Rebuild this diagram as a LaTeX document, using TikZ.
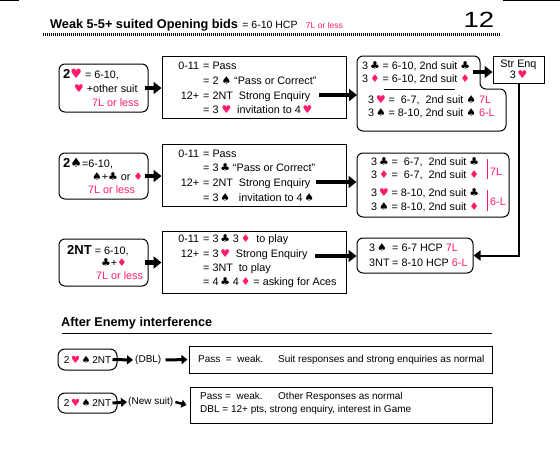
\documentclass[tikz,border=0pt]{standalone}
\usepackage{fontspec}
\usepackage{graphicx}
\setmainfont{Liberation Sans}
\newfontfamily\suitfont{DejaVu Sans}
\usetikzlibrary{arrows.meta, positioning, calc}
\definecolor{bidPink}{HTML}{FF1C6E}
\newcommand{\suitH}{{\suitfont\color{bidPink}♥}}
\newcommand{\suitD}{{\suitfont\color{bidPink}♦}}
\newcommand{\suitS}{{\suitfont ♠}}
\newcommand{\suitC}{{\suitfont ♣}}
\newcommand{\pk}[1]{{\color{bidPink}#1}}
\newcommand{\opn}[1]{{\bfseries\fontsize{13}{14}\selectfont #1}}
\newcommand{\lab}[1]{\makebox[29pt][r]{#1}\hspace{4pt}}
\newcommand{\bsz}[1]{\fontsize{10.8}{#1}\selectfont}
\tikzset{
  bidfont/.style={font=\bsz{14.7}},
  lowfont/.style={font=\fontsize{10}{13}\selectfont},
  hdfont/.style={font=\bfseries\fontsize{12.7}{15}\selectfont},
  sqbox/.style={draw, line width=1pt, inner sep=0pt},
  rdbox/.style={draw, line width=1pt, rounded corners=6pt, inner sep=0pt},
  txt/.style={bidfont, align=left, inner sep=0pt, anchor=west},
  bigarr/.style={-{Triangle[length=8pt,width=12pt]}, line width=4.5pt},
  midarr/.style={-{Triangle[length=6pt,width=9pt]}, line width=3pt},
  smlarr/.style={-{Triangle[length=5pt,width=8pt]}, line width=2.5pt},
  retarr/.style={-{Triangle[length=7pt,width=10pt]}, line width=2pt},
}

\begin{document}
\begin{tikzpicture}[x=1pt, y=-1pt]
  \useasboundingbox (0,0) rectangle (560,450);

  % heading
  \draw[line width=1pt] (0,0.5) -- (19,0.5);
  \draw[line width=1pt] (503,0.5) -- (560,0.5);
  \node[hdfont, anchor=base west, inner sep=0pt] (ttl) at (50,28.5) {Weak 5-5+ suited Opening bids};
  \node[font=\fontsize{10.5}{12}\selectfont, anchor=base west, inner sep=0pt] (hcp)
        at ([xshift=4pt]ttl.base east) {= 6-10 HCP};
  \node[font=\fontsize{8.5}{10}\selectfont, text=bidPink, anchor=base west, inner sep=0pt] (sev)
        at ([xshift=8pt]hcp.base east) {7L or less};
  \node[font=\fontsize{22}{22}\selectfont, inner sep=0pt] (pg) at (479,20) {\scalebox{1.25}[1]{12}};
  \draw[line width=3pt, dash pattern=on 1pt off 1pt] (43,34.5) -- (500,34.5);

  % 2H
  \node[rdbox, minimum width=89pt, minimum height=48pt] (l1) at (103.5,88) {};
  \node[txt, font=\bsz{14}] (l1t) at (63,88)
        {\opn{2\suitH} = 6-10,\\ \hspace*{11pt}\suitH\ +other suit\\ \hspace*{29pt}\pk{7L or less}};
  \node[sqbox, minimum width=184pt, minimum height=62pt] (m1) at (254,87) {};
  \node[txt] (m1t) at (170,88)
        {\lab{0-11}= Pass\\
         \lab{}= 2 \suitS\ “Pass or Correct”\\
         \lab{12+}= 2NT\ \ Strong Enquiry\\
         \lab{}= 3 \suitH\ \ invitation to 4\,\suitH};
  \draw[rounded corners=6pt, line width=1pt] (357,90) -- (357,56) -- (480,56) -- (480,89)
        -- (506,89) -- (506,131) -- (357,131) -- cycle;
  \draw[line width=1pt] (384,89) -- (455,89);
  \node[txt, font=\bsz{13}] (r1a) at (362,72.5)
        {3\,\suitC\ = 6-10, 2nd suit \suitC\\ 3\,\suitD\ = 6-10, 2nd suit \suitD};
  \node[txt, font=\bsz{12.5}] (r1b) at (368,107)
        {3\,\suitH\ =\ \ 6-7,\ \ 2nd suit \suitS\ \pk{7L}\\ 3\,\suitS\ = 8-10, 2nd suit \suitS\ \pk{6-L}};
  \node[sqbox, minimum width=51pt, minimum height=27pt, align=center,
        font=\bsz{10.5}] (se) at (518.5,69.5) {Str Enq\\3\,\suitH};

  \coordinate (m1s) at (319,95);
  \coordinate (r1w) at (357,95);
  \coordinate (r1s) at (473,72);
  \draw[bigarr] ([xshift=-4pt]l1.east) -- (l1.east -| m1.west);
  \draw[bigarr] (m1s) -- (r1w);
  \draw[bigarr] (r1s) -- (r1s -| se.west);

  % 2S
  \node[rdbox, minimum width=89pt, minimum height=46pt] (l2) at (103.5,176) {};
  \node[txt, font=\bsz{13}] (l2t) at (63,176)
        {\opn{2\suitS}=6-10,\\ \hspace*{29pt}\suitS+\suitC\ or \suitD\\ \hspace*{25pt}\pk{7L or less}};
  \node[sqbox, minimum width=184pt, minimum height=62pt] (m2) at (254,175) {};
  \node[txt] (m2t) at (170,175.5)
        {\lab{0-11}= Pass\\
         \lab{}= 3\,\suitC\ “Pass or Correct”\\
         \lab{12+}= 2NT\ \ Strong Enquiry\\
         \lab{}= 3\,\suitS\ \ \ invitation to 4\,\suitS};
  \node[rdbox, minimum width=152pt, minimum height=64pt] (r2) at (433,185) {};
  \node[txt, font=\bsz{13}] (r2a) at (371,168.5)
        {3\,\suitC\ =\ \ 6-7,\ \ 2nd suit \suitC\\ 3\,\suitD\ =\ \ 6-7,\ \ 2nd suit \suitD};
  \node[txt, font=\bsz{14}] (r2b) at (371,200)
        {3\,\suitH\ = 8-10, 2nd suit \suitC\\ 3\,\suitS\ = 8-10, 2nd suit \suitD};
  \draw[bidPink, line width=1pt] (487,159) -- (487,179);
  \draw[bidPink, line width=1pt] (487,190) -- (487,211);
  \node[txt, text=bidPink] (r2s) at (490,172) {7L};
  \node[txt, text=bidPink] (r2l) at (490,202) {6-L};

  \coordinate (m2s) at (316,182);
  \draw[bigarr] ([xshift=-4pt]l2.east) -- (l2.east -| m2.west);
  \draw[bigarr] (m2s) -- (m2s -| r2.west);

  % 2NT
  \node[rdbox, minimum width=89pt, minimum height=47pt] (l3) at (103.5,262.5) {};
  \node[txt, font=\bsz{12.5}] (l3t) at (67,262.5)
        {\opn{2NT} = 6-10,\\ \hspace*{34pt}\suitC+\suitD\\ \hspace*{29pt}\pk{7L or less}};
  \node[sqbox, minimum width=184pt, minimum height=62pt] (m3) at (254,262) {};
  \node[txt, font=\bsz{14.3}] (m3t) at (170,261.5)
        {\lab{0-11}= 3\,\suitC\ 3\,\suitD\ \ to play\\
         \lab{12+}= 3\,\suitH\ \ Strong Enquiry\\
         \lab{}= 3NT\ \ to play\\
         \lab{}= 4\,\suitC\ 4\,\suitD\ = asking for Aces};
  \node[rdbox, minimum width=116pt, minimum height=35pt] (r3) at (415,255.5) {};
  \node[txt, font=\bsz{15}] (r3t) at (369,255.5)
        {\makebox[23pt][l]{3\,\suitS}= 6-7 HCP \pk{7L}\\ \makebox[23pt][l]{3NT}= 8-10 HCP \pk{6-L}};

  \coordinate (m3s) at (315,256);
  \draw[bigarr] ([xshift=-4pt]l3.east) -- (l3.east -| m3.west);
  \draw[bigarr] (m3s) -- (m3s -| r3.west);
  \draw[retarr] (se.south) |- (r3.east);

  % interference
  \node[hdfont, anchor=base west, inner sep=0pt] (aei) at (61,326) {After Enemy interference};
  \draw[line width=1pt] (62,333.5) -- (492,333.5);

  \node[rdbox, rounded corners=7pt, minimum width=59pt, minimum height=21pt, lowfont] (a1)
        at (87.5,359.5) {2\,\suitH\,\suitS\,2NT};
  \node[txt, lowfont] (dbl) at (135,360) {(DBL)};
  \node[sqbox, minimum width=303pt, minimum height=27pt] (a2) at (340.5,359.5) {};
  \node[txt, lowfont] (a2t) at (198,359.5)
        {\makebox[80pt][l]{Pass\ \ =\ \ weak.}Suit responses and strong enquiries as normal};
  \draw[midarr] ([xshift=-5pt]a1.east) -- ([xshift=-2pt]dbl.west);
  \draw[midarr] ([xshift=4pt]dbl.east) -- ([xshift=-1pt]a2.west);

  \node[rdbox, rounded corners=7pt, minimum width=59pt, minimum height=20pt, lowfont] (b1)
        at (87.5,403) {2\,\suitH\,\suitS\,2NT};
  \node[txt, lowfont] (ns) at (128,402) {(New suit)};
  \node[sqbox, minimum width=302pt, minimum height=36pt] (b2) at (341,405) {};
  \node[txt, lowfont] (b2t) at (200,403.5)
        {\makebox[78pt][l]{Pass =\ \ weak.}Other Responses as normal\\
         DBL = 12+ pts, strong enquiry, interest in Game};
  \draw[midarr] ([xshift=-5pt]b1.east) -- ([xshift=-1pt]ns.west);
  \draw[smlarr] ([xshift=2pt]ns.east) -- ([xshift=-3pt]b2.west);
\end{tikzpicture}
\end{document}
